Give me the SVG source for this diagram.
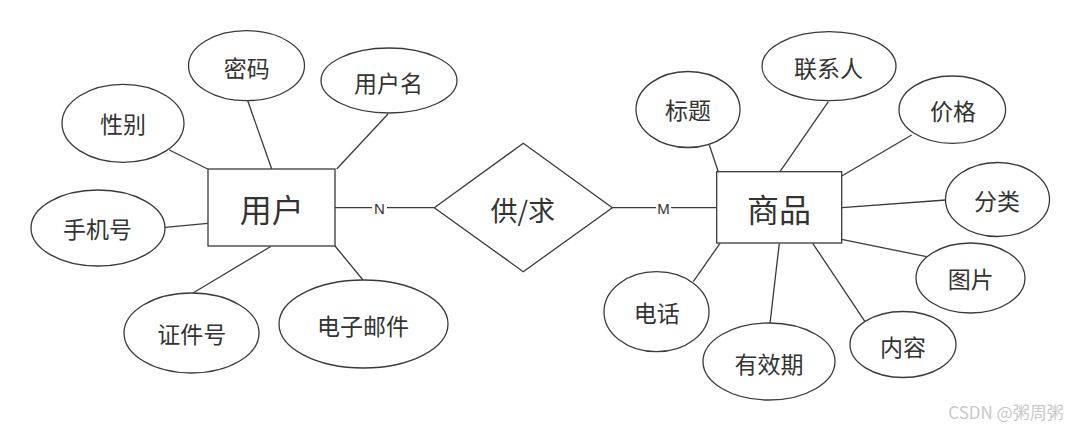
<svg xmlns="http://www.w3.org/2000/svg" width="1080" height="431" viewBox="0 0 1080 431">
<style>
.s{fill:#fff;stroke:#3a3a3a;stroke-width:1.3}
.c line{stroke:#3a3a3a;stroke-width:1.3}
text{font-family:"Noto Sans CJK SC","Noto Sans",sans-serif;fill:#333;text-anchor:middle;dominant-baseline:central}
.a{font-size:23px}
.e{font-size:32px}
.r{font-size:27px}
.l{font-size:15px;font-family:"Liberation Sans",Arial,sans-serif}
.w{font-size:17px;fill:#c8c8c8}
</style>
<rect width="1080" height="431" fill="#fff"/>
<g class="c" id="connectors">
<line x1="169.3" y1="150" x2="207.7" y2="169"/>
<line x1="247.7" y1="100.7" x2="271.7" y2="169"/>
<line x1="388" y1="114" x2="336.7" y2="169"/>
<line x1="165" y1="227.3" x2="207.7" y2="223.3"/>
<line x1="193" y1="293" x2="270.7" y2="246.5"/>
<line x1="363" y1="280" x2="335" y2="246"/>
<line x1="335" y1="207.7" x2="372" y2="207.7"/>
<line x1="387" y1="207.7" x2="434.3" y2="207.7"/>
<line x1="612.3" y1="207.7" x2="656" y2="207.7"/>
<line x1="671" y1="207.7" x2="716.7" y2="207.7"/>
<line x1="709.3" y1="145" x2="718.3" y2="171.7"/>
<line x1="828.3" y1="101.7" x2="780" y2="171.7"/>
<line x1="911.7" y1="135" x2="841.7" y2="176"/>
<line x1="946" y1="200" x2="841.7" y2="207.7"/>
<line x1="926.7" y1="256.7" x2="841.7" y2="239.3"/>
<line x1="865" y1="321.7" x2="812.7" y2="243.3"/>
<line x1="770" y1="323.3" x2="779.3" y2="243.3"/>
<line x1="693.3" y1="281.7" x2="720" y2="243.3"/>
<text class="l" x="379.5" y="208.5">N</text>
<text class="l" x="663.5" y="208.5">M</text>
</g>
<g id="user"><rect class="s" x="208" y="169" width="127" height="77"/><text class="e" x="271.7" y="208">用户</text></g>
<g id="rel"><polygon class="s" points="434.3,207.7 523.3,143.3 612.3,207.7 523.3,271.7"/><text class="r" x="522.7" y="209">供/求</text></g>
<g id="goods"><rect class="s" x="716.7" y="171.7" width="125" height="71.3"/><text class="e" x="779" y="208.3">商品</text></g>
<g id="mima"><ellipse class="s" cx="246.5" cy="65.7" rx="58" ry="35"/><text class="a" x="246.7" y="66.7">密码</text></g>
<g id="yonghuming"><ellipse class="s" cx="389" cy="80.5" rx="68" ry="32.5"/><text class="a" x="388.5" y="81.7">用户名</text></g>
<g id="xingbie"><ellipse class="s" cx="123" cy="123.3" rx="61" ry="39"/><text class="a" x="123" y="123">性别</text></g>
<g id="shoujihao"><ellipse class="s" cx="98" cy="228" rx="67" ry="38"/><text class="a" x="97.5" y="228">手机号</text></g>
<g id="zhengjianhao"><ellipse class="s" cx="191.5" cy="333" rx="67.5" ry="40"/><text class="a" x="191.7" y="333">证件号</text></g>
<g id="email"><ellipse class="s" cx="363.5" cy="324" rx="84.5" ry="44"/><text class="a" x="363" y="325">电子邮件</text></g>
<g id="biaoti"><ellipse class="s" cx="688" cy="109.5" rx="52" ry="38"/><text class="a" x="688" y="109">标题</text></g>
<g id="lianxiren"><ellipse class="s" cx="829" cy="66.2" rx="67" ry="34.5"/><text class="a" x="828.5" y="66.7">联系人</text></g>
<g id="jiage"><ellipse class="s" cx="952.3" cy="109.7" rx="53.3" ry="33.7"/><text class="a" x="953" y="110">价格</text></g>
<g id="fenlei"><ellipse class="s" cx="997.5" cy="199.5" rx="52" ry="37"/><text class="a" x="997" y="200">分类</text></g>
<g id="tupian"><ellipse class="s" cx="970.5" cy="278" rx="54.5" ry="35"/><text class="a" x="970.7" y="278">图片</text></g>
<g id="neirong"><ellipse class="s" cx="903" cy="344.5" rx="53" ry="33"/><text class="a" x="903" y="346">内容</text></g>
<g id="youxiaoqi"><ellipse class="s" cx="769" cy="361.5" rx="66" ry="38.5"/><text class="a" x="769" y="362.7">有效期</text></g>
<g id="dianhua"><ellipse class="s" cx="656.5" cy="311.7" rx="52.5" ry="40"/><text class="a" x="656.7" y="311.7">电话</text></g>
<text class="w" x="1006" y="411.5">CSDN @粥周粥</text>
</svg>
